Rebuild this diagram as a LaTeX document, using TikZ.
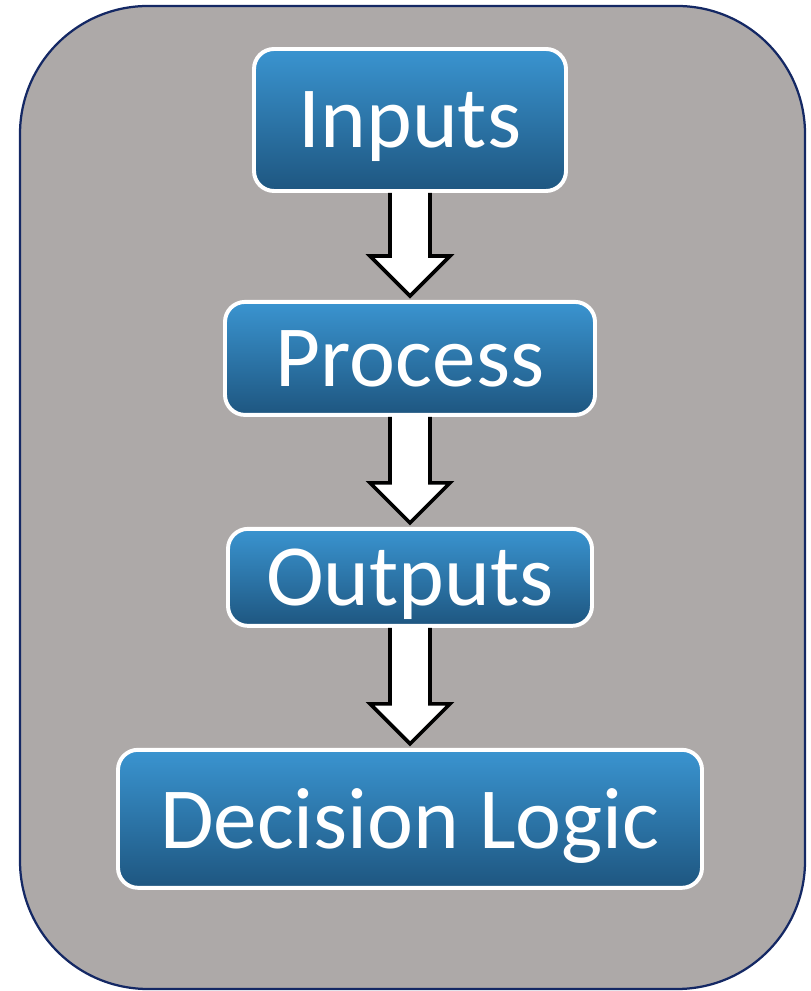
\documentclass[tikz,border=0pt]{standalone}
\usepackage{fontspec}
\setmainfont{Carlito}
\usetikzlibrary{positioning, calc}
\definecolor{framegray}{RGB}{173,169,168}
\definecolor{framenavy}{RGB}{20,40,100}
\definecolor{boxtop}{RGB}{58,148,208}
\definecolor{boxbottom}{RGB}{30,86,128}

\begin{document}
\begin{tikzpicture}[
		stage/.style={rounded corners=0.5cm, draw=white, line width=2.8pt,
			top color=boxtop, bottom color=boxbottom, text=white,
			font=\fontsize{62}{62}\selectfont, inner sep=0pt, text depth=0pt},
		blockarrow/.style={draw=black, line width=2.6pt, line join=miter}
		]
		\useasboundingbox (0,0) rectangle (20.25,24.775);
		% grey panel behind the flow
		\draw[fill=framegray, draw=framenavy, line width=1.6pt, rounded corners=3.2cm]
			(0.5,0.05) rectangle (20.125,24.625);

		\node[stage, minimum width=7.8cm, minimum height=3.55cm] (inputs) at (10.25,21.775) {Inputs};
		\node[stage, minimum width=9.25cm, minimum height=2.825cm, below=2.675cm of inputs] (process) {Process};
		\node[stage, minimum width=9.1cm, minimum height=2.425cm, below=2.75cm of process] (outputs) {Outputs};
		\node[stage, minimum width=14.6cm, minimum height=3.45cm, below=3cm of outputs] (decision) {Decision Logic};

		% hollow arrows between the stages
		\foreach \from/\to in {inputs/process, process/outputs, outputs/decision}{
			\fill[white] let \p1=(\from.south), \p2=(\to.north) in
				(\x1-0.5cm,\y1) -- (\x1-0.5cm,\y2+1.1cm) -- (\x1-1cm,\y2+1.1cm) -- (\x1,\y2+0.1cm)
				-- (\x1+1cm,\y2+1.1cm) -- (\x1+0.5cm,\y2+1.1cm) -- (\x1+0.5cm,\y1) -- cycle;
			\draw[blockarrow] let \p1=(\from.south), \p2=(\to.north) in
				(\x1-0.5cm,\y1) -- (\x1-0.5cm,\y2+1.1cm) -- (\x1-1cm,\y2+1.1cm) -- (\x1,\y2+0.1cm)
				-- (\x1+1cm,\y2+1.1cm) -- (\x1+0.5cm,\y2+1.1cm) -- (\x1+0.5cm,\y1);
		}
	\end{tikzpicture}
\end{document}
